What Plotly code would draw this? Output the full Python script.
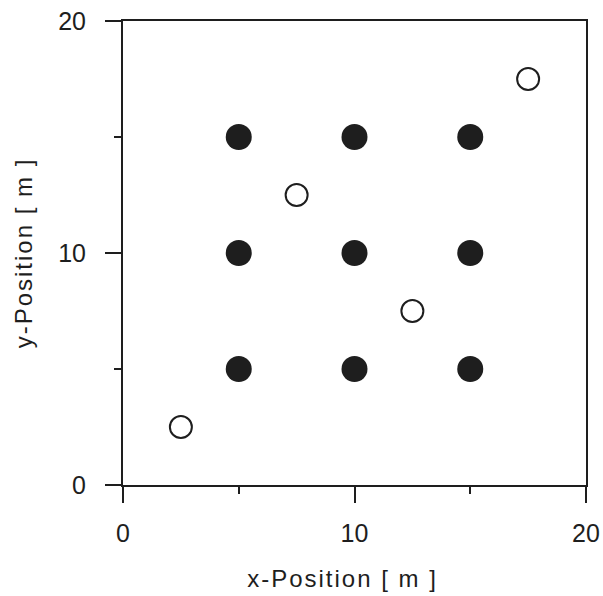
import plotly.graph_objects as go

filled_x = [5, 10, 15, 5, 10, 15, 5, 10, 15]
filled_y = [5, 5, 5, 10, 10, 10, 15, 15, 15]
open_x = [2.5, 7.5, 12.5, 17.5]
open_y = [2.5, 12.5, 7.5, 17.5]

x_title = "x-Position [ m ]"
y_title = "y-Position [ m ]"

FONT = "Liberation Sans, Arial, sans-serif"
INK = "#1e1e1e"

fig = go.Figure()
fig.add_trace(go.Scatter(x=filled_x, y=filled_y, mode="markers",
                         marker=dict(size=26, color=INK, line=dict(width=0)),
                         showlegend=False, cliponaxis=False))
fig.add_trace(go.Scatter(x=open_x, y=open_y, mode="markers",
                         marker=dict(size=22, color="white", line=dict(width=2, color=INK)),
                         showlegend=False, cliponaxis=False))

axis_common = dict(
    range=[0, 20], dtick=10, tick0=0, showgrid=False, zeroline=False,
    showline=True, linecolor=INK, linewidth=2, mirror=True,
    ticks="outside", ticklen=16, tickwidth=2, tickcolor=INK,
    minor=dict(ticks="outside", ticklen=7, tickwidth=2, tickcolor=INK, dtick=5, tick0=0, showgrid=False),
    tickfont=dict(family=FONT, size=25, color=INK),
    title_font=dict(family=FONT, size=24, color=INK),
    automargin=False,
)

fig.update_layout(
    width=603, height=596,
    margin=dict(l=123, r=17, t=21, b=111),
    paper_bgcolor="white", plot_bgcolor="white",
    xaxis=dict(axis_common, title=dict(text=x_title), ticklabelstandoff=9),
    yaxis=dict(axis_common, title=dict(text=y_title), ticklabelstandoff=14),
)

post = """
var s = document.createElement('style');
s.textContent = '.xtitle { letter-spacing: 2px; translate: -12px 9px; } .ytitle { letter-spacing: 2px; translate: -4px 0px; }';
document.head.appendChild(s);
"""
fig.write_html("out.html", post_script=post)
